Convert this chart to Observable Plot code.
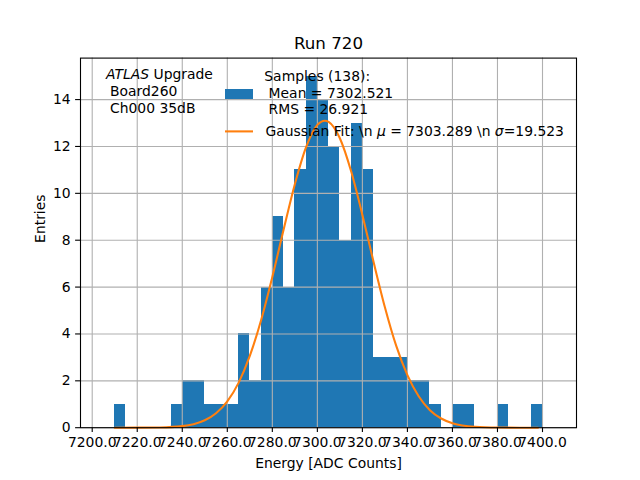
<!DOCTYPE html>
<html><head><meta charset="utf-8">
<script src="https://cdn.jsdelivr.net/npm/d3@7"></script>
<script src="https://cdn.jsdelivr.net/npm/@observablehq/plot@0.6"></script>
<style>body{margin:0;background:#fff} #chart{width:640px;height:480px}</style>
</head><body><div id="chart"></div>
<script>
const binEdges = [7210,7215,7220,7225,7230,7235,7240,7245,7250,7255,7260,7265,7270,7275,7280,7285,7290,7295,7300,7305,7310,7315,7320,7325,7330,7335,7340,7345,7350,7355,7360,7365,7370,7375,7380,7385,7390,7395,7400];
const counts = [1,0,0,0,0,1,2,2,1,1,1,4,2,6,9,6,11,15,14,12,8,13,11,3,3,3,2,2,1,0,1,1,0,0,1,0,0,1];
const fitX = [7210,7220,7230,7240,7245,7250,7255,7260,7265,7270,7275,7280,7285,7290,7295,7300,7303.3,7305,7310,7315,7320,7325,7330,7335,7340,7345,7350,7355,7360,7370,7380,7390,7398];
const fitY = [0.000,0.002,0.011,0.068,0.152,0.316,0.614,1.121,1.914,3.061,4.585,6.431,8.447,10.39,11.97,12.92,13.10,13.05,12.35,10.94,9.08,7.06,5.14,3.50,2.24,1.34,0.748,0.393,0.193,0.038,0.006,0.001,0.000];
const xTicks = [7200,7220,7240,7260,7280,7300,7320,7340,7360,7380,7400];
const yTicks = [0,2,4,6,8,10,12,14];
const xDomain = [7194.8, 7415.1];
const yDomain = [0, 15.77];
const title = "Run 720";
const xLabel = "Energy [ADC Counts]";
const yLabel = "Entries";
const infoLines = ["Board260", "Ch000 35dB"];
const sampleLines = ["Samples (138):", "Mean = 7302.521", "RMS = 26.921"];

const bins = counts.map((c, i) => ({x1: binEdges[i], x2: binEdges[i + 1], y: c}));
const fit = fitX.map((x, i) => ({x, y: fitY[i]}));

function legendMark(index, scales, values, dims) {
  const L = dims.marginLeft, T = dims.marginTop;
  const g = d3.create("svg:g")
    .attr("font-family", "DejaVu Sans")
    .attr("font-size", "13.9px")
    .attr("text-anchor", "start")
    .attr("fill", "black")
    .style("white-space", "pre");
  // info block
  const t1 = g.append("text").attr("x", L + 26).attr("y", T + 16.4).attr("dy", "0.35em");
  t1.append("tspan").attr("font-style", "italic").text("ATLAS");
  t1.append("tspan").text(" Upgrade");
  infoLines.forEach((s, i) => {
    g.append("text").attr("x", L + 30).attr("y", T + 34 + i * 16.6).attr("dy", "0.35em").text(s);
  });
  // samples entry
  g.append("rect").attr("x", L + 145).attr("y", T + 31.4).attr("width", 28).attr("height", 10).attr("fill", "#1f77b4");
  sampleLines.forEach((s, i) => {
    g.append("text").attr("x", L + (i === 0 ? 184.3 : 188.6)).attr("y", T + 18.6 + i * 16.6).attr("dy", "0.35em").text(s);
  });
  // fit entry
  g.append("line").attr("x1", L + 145).attr("x2", L + 173).attr("y1", T + 73.8).attr("y2", T + 73.8)
    .attr("stroke", "#ff7f0e").attr("stroke-width", 2.08);
  const t2 = g.append("text").attr("x", L + 185.5).attr("y", T + 73.6).attr("dy", "0.35em");
  t2.append("tspan").text("Gaussian Fit: \\n ");
  t2.append("tspan").attr("font-style", "italic").text("\u03bc");
  t2.append("tspan").text(" = 7303.289 \\n ");
  t2.append("tspan").attr("font-style", "italic").text("\u03c3");
  t2.append("tspan").text("=19.523");
  return g.node();
}

const chart = Plot.plot({
  width: 640,
  height: 480,
  marginLeft: 80,
  marginRight: 64,
  marginTop: 57.6,
  marginBottom: 52.8,
  style: {fontFamily: "DejaVu Sans", fontSize: "13.9px", color: "black", background: "white"},
  x: {type: "linear", domain: xDomain},
  y: {domain: yDomain},
  marks: [
    Plot.rect(bins, {x1: "x1", x2: "x2", y1: 0, y2: "y", fill: "#1f77b4", shapeRendering: "crispEdges"}),
    Plot.gridX(xTicks, {stroke: "#b0b0b0", strokeOpacity: 1, strokeWidth: 1.1}),
    Plot.gridY(yTicks, {stroke: "#b0b0b0", strokeOpacity: 1, strokeWidth: 1.1}),
    Plot.line(fit, {x: "x", y: "y", stroke: "#ff7f0e", strokeWidth: 2.08, curve: "monotone-x"}),
    Plot.axisX(xTicks, {tickFormat: d => d.toFixed(1), tickSize: 4.9, tickPadding: 4.9, strokeWidth: 1.1, label: null}),
    Plot.axisY(yTicks, {tickFormat: d => String(d), tickSize: 4.9, tickPadding: 4.9, strokeWidth: 1.1, label: null}),
    Plot.frame({stroke: "black", strokeWidth: 1.1}),
    Plot.text([title], {text: d => d, frameAnchor: "top", lineAnchor: "middle", dy: -14, fontSize: 16.7}),
    Plot.text([xLabel], {text: d => d, frameAnchor: "bottom", lineAnchor: "middle", dy: 36}),
    Plot.text([yLabel], {text: d => d, frameAnchor: "left", lineAnchor: "middle", dx: -40, rotate: -90}),
    legendMark
  ]
});
document.getElementById("chart").appendChild(chart);
</script>
</body></html>
